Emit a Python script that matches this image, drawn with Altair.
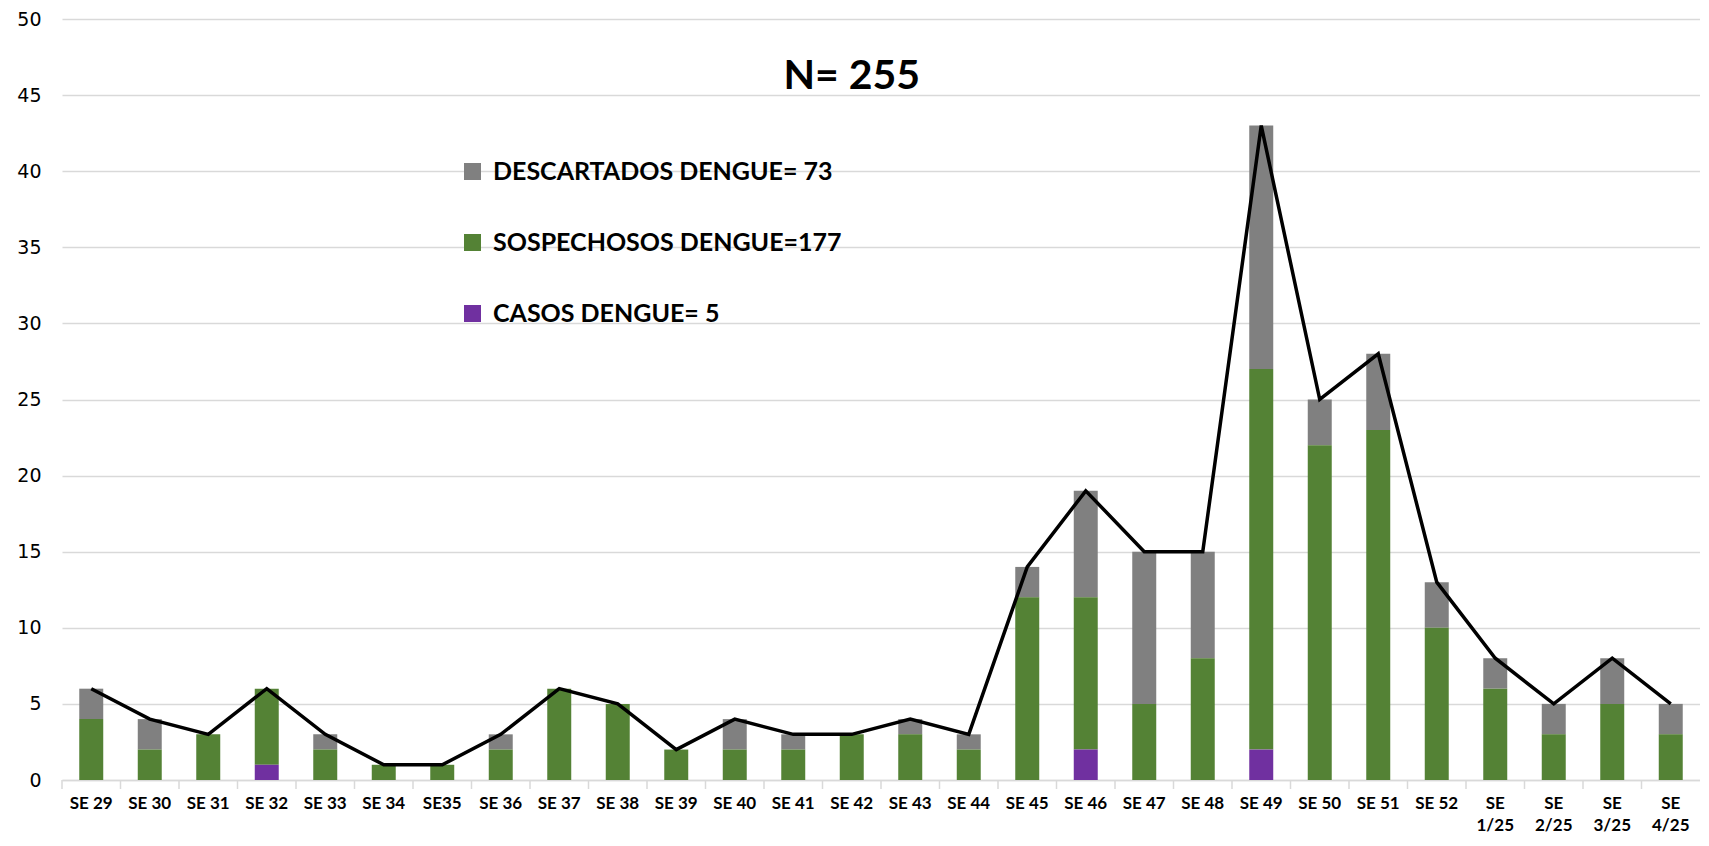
import altair as alt
import pandas as pd

weeks = ["SE 29", "SE 30", "SE 31", "SE 32", "SE 33", "SE 34", "SE35", "SE 36", "SE 37",
         "SE 38", "SE 39", "SE 40", "SE 41", "SE 42", "SE 43", "SE 44", "SE 45", "SE 46",
         "SE 47", "SE 48", "SE 49", "SE 50", "SE 51", "SE 52", "SE 1/25", "SE 2/25",
         "SE 3/25", "SE 4/25"]
casos = [0, 0, 0, 1, 0, 0, 0, 0, 0, 0, 0, 0, 0, 0, 0, 0, 0, 2, 0, 0, 2, 0, 0, 0, 0, 0, 0, 0]
sospechosos = [4, 2, 3, 5, 2, 1, 1, 2, 6, 5, 2, 2, 2, 3, 3, 2, 12, 10, 5, 8, 25, 22, 23, 10, 6, 3, 5, 3]
descartados = [2, 2, 0, 0, 1, 0, 0, 1, 0, 0, 0, 2, 1, 0, 1, 1, 2, 7, 10, 7, 16, 3, 5, 3, 2, 2, 3, 2]

series_names = ["DESCARTADOS DENGUE= 73", "SOSPECHOSOS DENGUE=177", "CASOS DENGUE= 5"]
series_colors = ["#808080", "#548235", "#7030A0"]
stack_rank = [2, 1, 0]
title_text = "N= 255"

rows = []
for i, w in enumerate(weeks):
    for name, vals, rank in zip(series_names, [descartados, sospechosos, casos], stack_rank):
        rows.append({"week": w, "serie": name, "value": vals[i], "rank": rank})
df = pd.DataFrame(rows)
tot = pd.DataFrame({"week": weeks,
                    "total": [a + b + c for a, b, c in zip(casos, sospechosos, descartados)]})

W, H = 1638, 761
step = W / len(weeks)

xscale = alt.Scale(domain=weeks, paddingInner=0.59, paddingOuter=0.295)
yscale = alt.Scale(domain=[0, 50], nice=False)

bars = alt.Chart(df).mark_bar().encode(
    x=alt.X("week:N", scale=xscale, sort=weeks, title=None,
            axis=alt.Axis(labelAngle=0, ticks=False, domain=True, domainColor="#d9d9d9",
                          domainWidth=1.5, labelFont="Lato", labelFontWeight="bold",
                          labelFontSize=17, labelColor="#000000", labelPadding=15,
                          labelLineHeight=22, labelBaseline="top",
                          labelExpr="indexof(datum.label, '/') > 0 ? split(datum.label, ' ') : datum.label")),
    y=alt.Y("value:Q", scale=yscale, stack="zero", title=None,
            axis=alt.Axis(values=list(range(0, 51, 5)), domain=False, ticks=False,
                          gridColor="#d9d9d9", gridWidth=1.5, labelFont="DejaVu Sans",
                          labelFontSize=19, labelColor="#000000", labelPadding=21)),
    color=alt.Color("serie:N", scale=alt.Scale(domain=series_names, range=series_colors),
                    legend=alt.Legend(orient="none", legendX=398, legendY=140, title=None,
                                      symbolType="square", symbolSize=289,
                                      symbolStrokeWidth=0, labelFont="Lato",
                                      labelFontWeight="bold", labelFontSize=25,
                                      labelColor="#000000", rowPadding=45,
                                      labelOffset=8, labelLimit=0)),
    order=alt.Order("rank:Q", sort="ascending"),
)

ticks = alt.Chart(tot).mark_rule(color="#d9d9d9", strokeWidth=1.5, xOffset=-step / 2).encode(
    x=alt.X("week:N", scale=xscale, sort=weeks),
    y=alt.value(H),
    y2=alt.value(H + 9),
)

line = alt.Chart(tot).mark_line(color="#000000", strokeWidth=3.5).encode(
    x=alt.X("week:N", scale=xscale, sort=weeks),
    y=alt.Y("total:Q", scale=yscale),
)

title = alt.Chart(pd.DataFrame({"t": [title_text]})).mark_text(
    font="Lato", fontWeight="bold", fontSize=41, color="#000000", baseline="middle"
).encode(
    x=alt.datum("SE 42", scale=xscale),
    y=alt.datum(46.2),
    text="t:N",
)

chart = alt.layer(bars, ticks, line, title).properties(
    width=W, height=H,
    autosize=alt.AutoSizeParams(type="none"),
    padding={"left": 54, "top": 11, "right": 0, "bottom": 58},
).configure_view(stroke=None)

chart.save("out.html", embed_options={"renderer": "svg", "actions": False})
